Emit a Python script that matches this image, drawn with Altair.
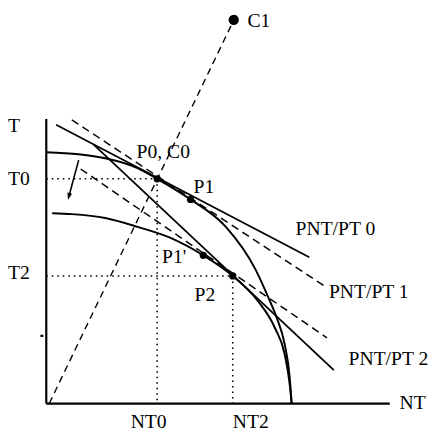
import altair as alt
import pandas as pd

# ---- data (NT on x, T on y) ----
# original production possibility frontier
ppf0_nt = [0, 33, 60, 93, 113, 147, 183, 213, 228, 235, 243, 248, 250]
ppf0_t = [256, 254, 250, 240, 229, 208, 180, 137, 104, 87, 60, 27, 0]
# frontier after the shift
ppf1_nt = [6, 26, 60, 93, 126, 160, 190, 216, 233, 243, 248, 250]
ppf1_t = [194, 193, 189, 180, 169, 151, 130, 104, 77, 50, 20, 0]

# relative price lines (end points)
solid_names = ["PNT/PT 0", "PNT/PT 0", "PNT/PT 2", "PNT/PT 2"]
solid_nt = [10, 268, 48, 293]
solid_t = [284, 149, 264, 34]
dashed_names = ["PNT/PT 1", "PNT/PT 1", "PNT/PT 1'", "PNT/PT 1'"]
dashed_nt = [26, 283, 35, 286]
dashed_t = [289, 120, 239, 67]

# consumption ray through C0 and C1
ray_nt = [3, 195]
ray_t = [0, 399]

# dotted guides
guide_names = ["T0", "T0", "NT0", "NT0", "T2", "T2", "NT2", "NT2"]
guide_nt = [0, 113, 113, 113, 0, 190, 190, 190]
guide_t = [229, 229, 229, 0, 130, 130, 130, 0]

# axes and a stray tick
axis_names = ["T", "T", "NT", "NT", "tick", "tick"]
axis_nt = [0, 0, 0, 350, -6, -3]
axis_t = [0, 290, 0, 0, 69, 69]

# points
pt_names = ["P0", "P1", "P1'", "P2"]
pt_nt = [113, 147, 160, 190]
pt_t = [229, 208, 151, 130]
c1_nt = [191]
c1_t = [391]

# arrow (shift of the frontier)
arrow_nt = [33, 23]
arrow_t = [248, 211]

# labels
lab_text = ["T", "T0", "T2", "NT", "NT0", "NT2", "P0, C0", "P1", "P1'", "P2",
            "C1", "PNT/PT 0", "PNT/PT 1", "PNT/PT 2"]
lab_nt = [-39, -39, -39, 360, 86, 190, 92, 150, 118, 151, 205, 254, 288, 308]
lab_t = [283, 229, 133, 0, -19, -19, 256, 221, 149, 111, 390, 178, 114, 45]

# ---- frames ----
def frame(names, xs, ys):
    return pd.DataFrame({"id": names, "x": xs, "y": ys, "k": list(range(len(xs)))})

ppf = pd.concat([
    frame(["PPF0"] * len(ppf0_nt), ppf0_nt, ppf0_t),
    frame(["PPF1"] * len(ppf1_nt), ppf1_nt, ppf1_t),
])
solid = frame(solid_names, solid_nt, solid_t)
dashed = frame(dashed_names, dashed_nt, dashed_t)
ray = frame(["ray"] * 2, ray_nt, ray_t)
guides = frame(guide_names, guide_nt, guide_t)
axes = frame(axis_names, axis_nt, axis_t)
pts = pd.DataFrame({"id": pt_names, "x": pt_nt, "y": pt_t})
c1 = pd.DataFrame({"id": ["C1"], "x": c1_nt, "y": c1_t})
arrow = frame(["arrow"] * 2, arrow_nt, arrow_t)
head = arrow.iloc[[1]]
labels = pd.DataFrame({"text": lab_text, "x": lab_nt, "y": lab_t})

xs = alt.Scale(domain=[-39, 392], nice=False, zero=False)
ys = alt.Scale(domain=[-28, 399], nice=False, zero=False)
X = alt.X("x:Q", scale=xs, axis=None)
Y = alt.Y("y:Q", scale=ys, axis=None)

def lines(df, **kw):
    return alt.Chart(df).mark_line(color="black", clip=False, **kw).encode(
        x=X, y=Y, detail="id:N", order="k:Q")

layers = [
    lines(axes, strokeWidth=2.2),
    lines(guides, strokeWidth=1.6, strokeDash=[1.6, 4]),
    lines(ppf, strokeWidth=2, interpolate="monotone"),
    lines(solid, strokeWidth=1.8),
    lines(dashed, strokeWidth=1.5, strokeDash=[8, 5]),
    lines(ray, strokeWidth=1.4, strokeDash=[7, 5]),
    lines(arrow, strokeWidth=1.6),
    alt.Chart(head).mark_point(shape="M-0.4,-0.6L0.4,-0.6L0,0.6Z", filled=True,
                               color="black", opacity=1, size=144, angle=15).encode(x=X, y=Y),
    alt.Chart(pts).mark_circle(color="black", opacity=1, size=55).encode(x=X, y=Y),
    alt.Chart(c1).mark_circle(color="black", opacity=1, size=110).encode(x=X, y=Y),
    alt.Chart(labels).mark_text(font="Liberation Serif", fontSize=20, align="left",
                                baseline="middle", color="black").encode(x=X, y=Y, text="text:N"),
]

chart = alt.layer(*layers).properties(
    width=431, height=427, padding=0, autosize=alt.AutoSizeParams(type="none")
).configure_view(stroke=None)

chart.save("out.html", embed_options={"renderer": "svg", "actions": False})
